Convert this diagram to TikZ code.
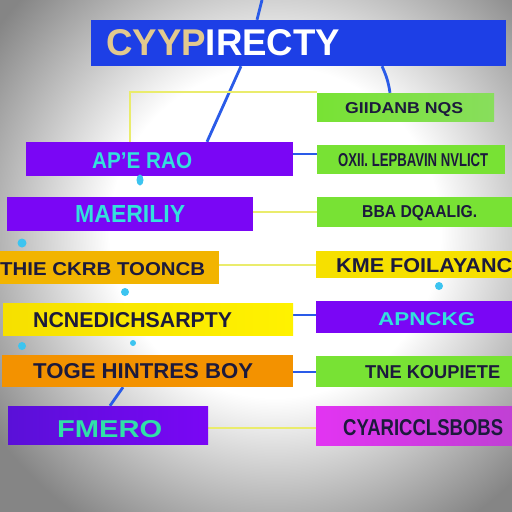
\documentclass[tikz,border=0pt]{standalone}
\usepackage{fontspec}
\setmainfont{Liberation Sans}
\usetikzlibrary{shapes.geometric}
\pgfdeclarelayer{back}
\pgfdeclarelayer{bg}
\pgfsetlayers{back,bg,main}
\definecolor{vgray}{HTML}{858585}
\pgfdeclareradialshading{vign}{\pgfpoint{0bp}{0bp}}{color(0bp)=(white); color(12bp)=(white); color(25bp)=(vgray); color(50bp)=(vgray)}
\definecolor{tblue}{HTML}{1D3FE6}
\definecolor{lblue}{HTML}{2A5BE8}
\definecolor{gold}{HTML}{E2C98E}
\definecolor{purp}{HTML}{7A06F5}
\definecolor{purpd}{HTML}{5A10D8}
\definecolor{cyant}{HTML}{33E0DC}
\definecolor{cyang}{HTML}{30E0A8}
\definecolor{grn}{HTML}{78E234}
\definecolor{grnl}{HTML}{88DE5C}
\definecolor{ylw}{HTML}{F6E000}
\definecolor{ylwb}{HTML}{FFF200}
\definecolor{oylw}{HTML}{F2B400}
\definecolor{orng}{HTML}{F39200}
\definecolor{mag}{HTML}{E234F2}
\definecolor{magd}{HTML}{C040D4}
\definecolor{dtext}{HTML}{1C1A3C}
\definecolor{yline}{HTML}{EAEC6C}
\definecolor{dotc}{HTML}{3CC4F0}
\newcommand\fitt[3]{\resizebox{#1pt}{#2pt}{\bfseries #3}}
\tikzset{
  box/.style={rectangle, inner sep=0pt, draw=none},
  txt/.style={inner sep=0pt, anchor=base west},
  bl/.style={draw=lblue, line width=2.8pt},
  yl/.style={draw=yline, line width=2pt},
  dotn/.style={circle, fill=dotc, inner sep=0pt, draw=none},
}
\begin{document}
\begin{tikzpicture}[x=1pt,y=-1pt]
\useasboundingbox (0,0) rectangle (512,512);
\begin{pgfonlayer}{back}
\clip (0,0) rectangle (512,512);
\fill[vgray] (0,0) rectangle (512,512);
\shade[shading=vign] (275,232) circle (345);
\end{pgfonlayer}
% boxes
\node[box, fill=tblue, minimum width=415, minimum height=46] (T) at (298.5,43) {};
\node[box, fill=purp, minimum width=267, minimum height=34] (L1) at (159.5,159) {};
\node[box, fill=purp, minimum width=246, minimum height=34] (L2) at (130,214) {};
\node[box, fill=oylw, minimum width=219, minimum height=33] (L3) at (109.5,267.5) {};
\node[box, left color=ylw, right color=ylwb, minimum width=290, minimum height=32] (L4) at (148,319) {};
\node[box, fill=orng, minimum width=291, minimum height=32] (L5) at (147.5,371) {};
\node[box, left color=purpd, right color=purp, minimum width=200, minimum height=38] (L6) at (108,425) {};
\node[box, left color=grn, right color=grnl, minimum width=177, minimum height=28] (R1) at (405.5,107) {};
\node[box, fill=grn, minimum width=188, minimum height=29] (R2) at (411,159.5) {};
\node[box, fill=grn, minimum width=195, minimum height=30] (R3) at (414.5,212) {};
\node[box, fill=ylw, minimum width=196, minimum height=27] (R4) at (414,264.5) {};
\node[box, fill=purp, minimum width=196, minimum height=32] (R5) at (414,317) {};
\node[box, fill=grn, minimum width=196, minimum height=31] (R6) at (414,371.5) {};
\node[box, left color=mag, right color=magd, minimum width=196, minimum height=39] (R7) at (414,425.5) {};
% texts
\node[txt] (tT) at (106,55) {\fitt{234}{26}{{\color{gold}CYYP}\color{white}IRECTY}};
\node[txt, text=cyant] (tL1) at (92,168) {\fitt{100}{16}{AP'E RAO}};
\node[txt, text=cyant] (tL2) at (75,222) {\fitt{110}{17}{MAERILIY}};
\node[txt, text=dtext] (tL3) at (0,275) {\fitt{205}{13}{THIE CKRB TOONCB}};
\node[txt, text=dtext] (tL4) at (33,327) {\fitt{199}{15}{NCNEDICHSARPTY}};
\node[txt, text=dtext] (tL5) at (33,378) {\fitt{220}{15}{TOGE HINTRES BOY}};
\node[txt, text=cyang] (tL6) at (57,437) {\fitt{105}{17}{FMERO}};
\node[txt, text=dtext] (tR1) at (345,113) {\fitt{118}{11}{GIIDANB NQS}};
\node[txt, text=dtext] (tR2) at (338,166) {\fitt{150}{13}{OXII. LEPBAVIN NVLICT}};
\node[txt, text=dtext] (tR3) at (362,217) {\fitt{115}{12}{BBA DQAALIG.}};
\node[txt, text=dtext] (tR4) at (336,272) {\fitt{176}{14}{KME FOILAYANC}};
\node[txt, text=cyant] (tR5) at (378,325) {\fitt{97}{13}{APNCKG}};
\node[txt, text=dtext] (tR6) at (365,378) {\fitt{135}{13}{TNE KOUPIETE}};
\node[txt, text=dtext] (tR7) at (343,435) {\fitt{160}{16}{CYARICCLSBOBS}};
% dots
\node[dotn, ellipse, minimum width=7, minimum height=11] (d0) at (140,180) {};
\node[dotn, minimum size=9] (d1) at (22,243) {};
\node[dotn, minimum size=8] (d2) at (125,292) {};
\node[dotn, minimum size=8] (d3) at (22,346) {};
\node[dotn, minimum size=6] (d4) at (133,343) {};
\node[dotn, minimum size=8] (d5) at (439,286) {};
% connectors
\coordinate (top) at (262,0);
\begin{pgfonlayer}{bg}
\draw[bl] (top) -- ([xshift=-41.5pt]T.north);
\draw[bl] ([xshift=-57.5pt]T.south) -- ([xshift=47.5pt]L1.north);
\draw[bl] ([xshift=83.5pt]T.south) to[bend left=8] ([xshift=-15.5pt]R1.north);
\draw[yl] ([xshift=-29.5pt]L1.north) |- ([yshift=15pt]R1.west);
\draw[bl] ([yshift=5pt]L1.east) -- ([yshift=5pt]L1.east -| R2.west);
\draw[yl] ([yshift=2pt]L2.east) -- ([yshift=2pt]L2.east -| R3.west);
\draw[yl] ([yshift=2.5pt]L3.east) -- ([yshift=2.5pt]L3.east -| R4.west);
\draw[bl] ([yshift=4pt]L4.east) -- ([yshift=4pt]L4.east -| R5.west);
\draw[bl] ([yshift=-1pt]L5.east) -- ([yshift=-1pt]L5.east -| R6.west);
\draw[bl] ([xshift=-24.5pt]L5.south) -- ([xshift=2pt]L6.north);
\draw[yl] ([yshift=-3pt]L6.east) -- ([yshift=-3pt]L6.east -| R7.west);
\end{pgfonlayer}
\end{tikzpicture}
\end{document}
